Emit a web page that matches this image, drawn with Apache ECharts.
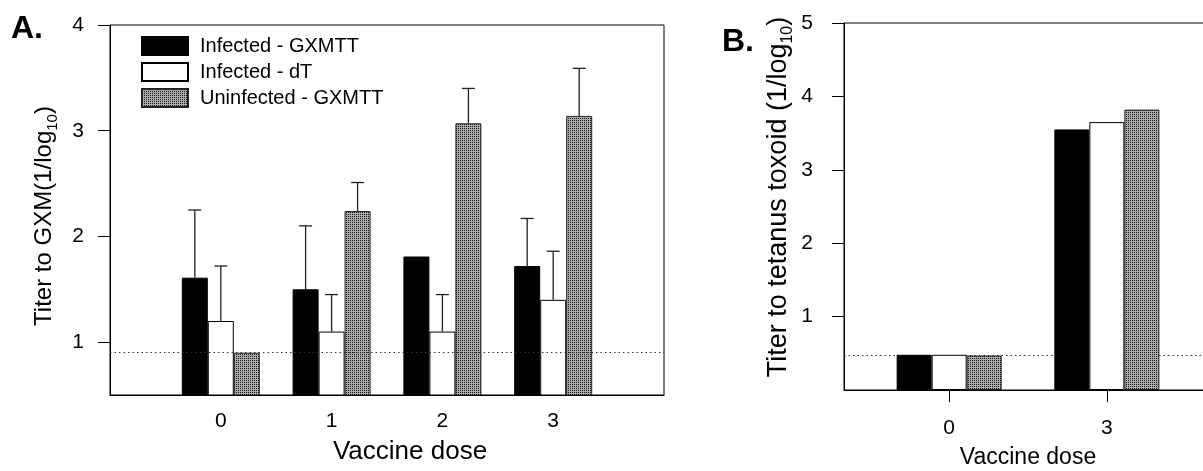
<!DOCTYPE html>
<html>
<head>
<meta charset="utf-8">
<script src="https://cdn.jsdelivr.net/npm/echarts@6/dist/echarts.min.js"></script>
<style>
html,body{margin:0;padding:0;background:#fff;}
#chart{width:1203px;height:471px;}
</style>
</head>
<body>
<div id="chart"></div>
<script>
// ---------- data ----------
const seriesNames = ['Infected - GXMTT', 'Infected - dT', 'Uninfected - GXMTT'];

// Panel A: titer to GXM
const doseA = [0, 1, 2, 3];
const infGxmA = [1.61, 1.50, 1.81, 1.72];
const infDtA = [1.20, 1.10, 1.10, 1.40];
const uninfGxmA = [0.90, 2.24, 3.07, 3.14];
const sdInfGxmA = [0.64, 0.60, null, 0.45];
const sdInfDtA = [0.52, 0.35, 0.35, 0.46];
const sdUninfGxmA = [null, 0.27, 0.33, 0.45];
const yTicksA = [1, 2, 3, 4];
const cutoffA = 0.9;

// Panel B: titer to tetanus toxoid
const doseB = [0, 3];
const infGxmB = [0.48, 3.55];
const infDtB = [0.48, 3.65];
const uninfGxmB = [0.47, 3.82];
const yTicksB = [1, 2, 3, 4, 5];
const cutoffB = 0.47;

// ---------- styling ----------
const FONT = '"Liberation Sans", Arial, Helvetica, sans-serif';
const BAR_W_A = 26;
const BAR_W_B = 35;

const pc = document.createElement('canvas');
pc.width = 2; pc.height = 2;
const pctx = pc.getContext('2d');
pctx.fillStyle = '#adadad'; pctx.fillRect(0, 0, 2, 2);
pctx.fillStyle = '#111'; pctx.fillRect(0, 0, 1, 1);
const grayPattern = { image: pc, repeat: 'repeat' };

const barStyles = [
  { color: '#000', borderColor: '#000', borderWidth: 1 },
  { color: '#fff', borderColor: '#000', borderWidth: 1 },
  { color: grayPattern, borderColor: '#222', borderWidth: 1 }
];

function pairs(xs, ys) { return xs.map((x, i) => [x, ys[i]]); }

const valsA = [infGxmA, infDtA, uninfGxmA];
const sdsA = [sdInfGxmA, sdInfDtA, sdUninfGxmA];
const valsB = [infGxmB, infDtB, uninfGxmB];

const errData = [];
sdsA.forEach((sds, k) => {
  sds.forEach((sd, i) => {
    if (sd != null) errData.push([doseA[i], valsA[k][i], sd, k]);
  });
});

const series = [];
seriesNames.forEach((name, k) => {
  const s = {
    name, type: 'bar', xAxisIndex: 0, yAxisIndex: 0,
    barWidth: BAR_W_A, barGap: '0%',
    itemStyle: barStyles[k],
    data: pairs(doseA, valsA[k]),
    animation: false
  };
  if (k === 0) {
    s.markLine = {
      silent: true, symbol: 'none', z: 5, animation: false,
      label: { show: false },
      lineStyle: { color: '#333', width: 1, type: [1.5, 3] },
      data: [{ yAxis: cutoffA }]
    };
  }
  series.push(s);
});
seriesNames.forEach((name, k) => {
  const s = {
    name, type: 'bar', xAxisIndex: 1, yAxisIndex: 1,
    barWidth: BAR_W_B, barGap: '0%',
    itemStyle: barStyles[k],
    data: pairs(doseB, valsB[k]),
    animation: false
  };
  if (k === 0) {
    s.markLine = {
      silent: true, symbol: 'none', z: 1, animation: false,
      label: { show: false },
      lineStyle: { color: '#333', width: 1, type: [1.5, 3] },
      data: [{ yAxis: cutoffB }]
    };
  }
  series.push(s);
});
series.push({
  type: 'custom', xAxisIndex: 0, yAxisIndex: 0, z: 4, silent: true,
  animation: false,
  data: errData,
  renderItem: function (params, api) {
    const x = api.value(0), m = api.value(1), sd = api.value(2), k = api.value(3);
    const p0 = api.coord([x, m]);
    const p1 = api.coord([x, m + sd]);
    const cx = p0[0] + (k - 1) * BAR_W_A;
    const st = { stroke: '#222', lineWidth: 1.3 };
    return {
      type: 'group',
      children: [
        { type: 'line', shape: { x1: cx, y1: p0[1], x2: cx, y2: p1[1] }, style: st },
        { type: 'line', shape: { x1: cx - 6.5, y1: p1[1], x2: cx + 6.5, y2: p1[1] }, style: st }
      ]
    };
  }
});

const axisLbl = { color: '#000', fontSize: 21, fontFamily: FONT };
const blackLine = { onZero: false, lineStyle: { color: '#000', width: 1 } };

const option = {
  backgroundColor: '#fff',
  animation: false,
  textStyle: { fontFamily: FONT },
  legend: {
    orient: 'vertical', left: 136, top: 31,
    itemWidth: 46, itemHeight: 18, itemGap: 6,
    selectedMode: false, icon: 'rect',
    textStyle: { color: '#000', fontSize: 20, fontFamily: FONT, padding: [3, 0, 0, 7] },
    data: seriesNames
  },
  grid: [
    { left: 110, top: 25, width: 554, height: 370, show: true, borderColor: '#000', borderWidth: 1, backgroundColor: 'transparent', outerBoundsMode: 'none', containLabel: false },
    { left: 844, top: 23, width: 368, height: 367, show: true, borderColor: '#000', borderWidth: 1, backgroundColor: 'transparent', outerBoundsMode: 'none', containLabel: false }
  ],
  xAxis: [
    {
      gridIndex: 0, type: 'value', min: -1, max: 4, interval: 1,
      splitLine: { show: false }, axisLine: blackLine,
      axisTick: { show: false },
      axisLabel: Object.assign({ customValues: doseA, margin: 16 }, axisLbl)
    },
    {
      gridIndex: 1, type: 'value', min: -2, max: 5, interval: 1,
      splitLine: { show: false }, axisLine: blackLine,
      axisTick: { show: true, customValues: doseB, length: 12, lineStyle: { color: '#000' } },
      axisLabel: Object.assign({ customValues: doseB, margin: 28 }, axisLbl)
    }
  ],
  yAxis: [
    {
      gridIndex: 0, type: 'value', min: 0.5, max: 4,
      splitLine: { show: false }, axisLine: Object.assign({ show: true }, blackLine),
      axisTick: { show: true, customValues: yTicksA, length: 12, lineStyle: { color: '#000' } },
      axisLabel: Object.assign({ customValues: yTicksA, margin: 26 }, axisLbl)
    },
    {
      gridIndex: 1, type: 'value', min: 0, max: 5,
      splitLine: { show: false }, axisLine: Object.assign({ show: true }, blackLine),
      axisTick: { show: true, customValues: yTicksB, length: 12, lineStyle: { color: '#000' } },
      axisLabel: Object.assign({ customValues: yTicksB, margin: 31 }, axisLbl)
    }
  ],
  graphic: [
    { type: 'text', left: 11, top: 13, style: { text: 'A.', fontSize: 32, fontWeight: 'bold', fontFamily: FONT, fill: '#000' } },
    { type: 'text', left: 722, top: 26, style: { text: 'B.', fontSize: 32, fontWeight: 'bold', fontFamily: FONT, fill: '#000' } },
    {
      type: 'text', x: 44, y: 216, rotation: Math.PI / 2,
      style: {
        text: 'Titer to GXM(1/log{sub|10})', fontSize: 24, fontFamily: FONT, fill: '#000',
        align: 'center', verticalAlign: 'middle', lineHeight: 32,
        rich: { sub: { fontSize: 15, fontFamily: FONT, fill: '#000', verticalAlign: 'bottom', lineHeight: 15 } }
      }
    },
    {
      type: 'text', x: 779, y: 197, rotation: Math.PI / 2,
      style: {
        text: 'Titer to tetanus toxoid (1/log{sub|10})', fontSize: 27, fontFamily: FONT, fill: '#000',
        align: 'center', verticalAlign: 'middle', lineHeight: 34,
        rich: { sub: { fontSize: 16, fontFamily: FONT, fill: '#000', verticalAlign: 'bottom', lineHeight: 16 } }
      }
    },
    { type: 'text', x: 410, y: 452, style: { text: 'Vaccine dose', fontSize: 26, fontFamily: FONT, fill: '#000', align: 'center', verticalAlign: 'middle' } },
    { type: 'text', x: 1028, y: 458, style: { text: 'Vaccine dose', fontSize: 23, fontFamily: FONT, fill: '#000', align: 'center', verticalAlign: 'middle' } }
  ],
  series
};

const chart = echarts.init(document.getElementById('chart'), null, { renderer: 'canvas' });
chart.setOption(option);
</script>
</body>
</html>
